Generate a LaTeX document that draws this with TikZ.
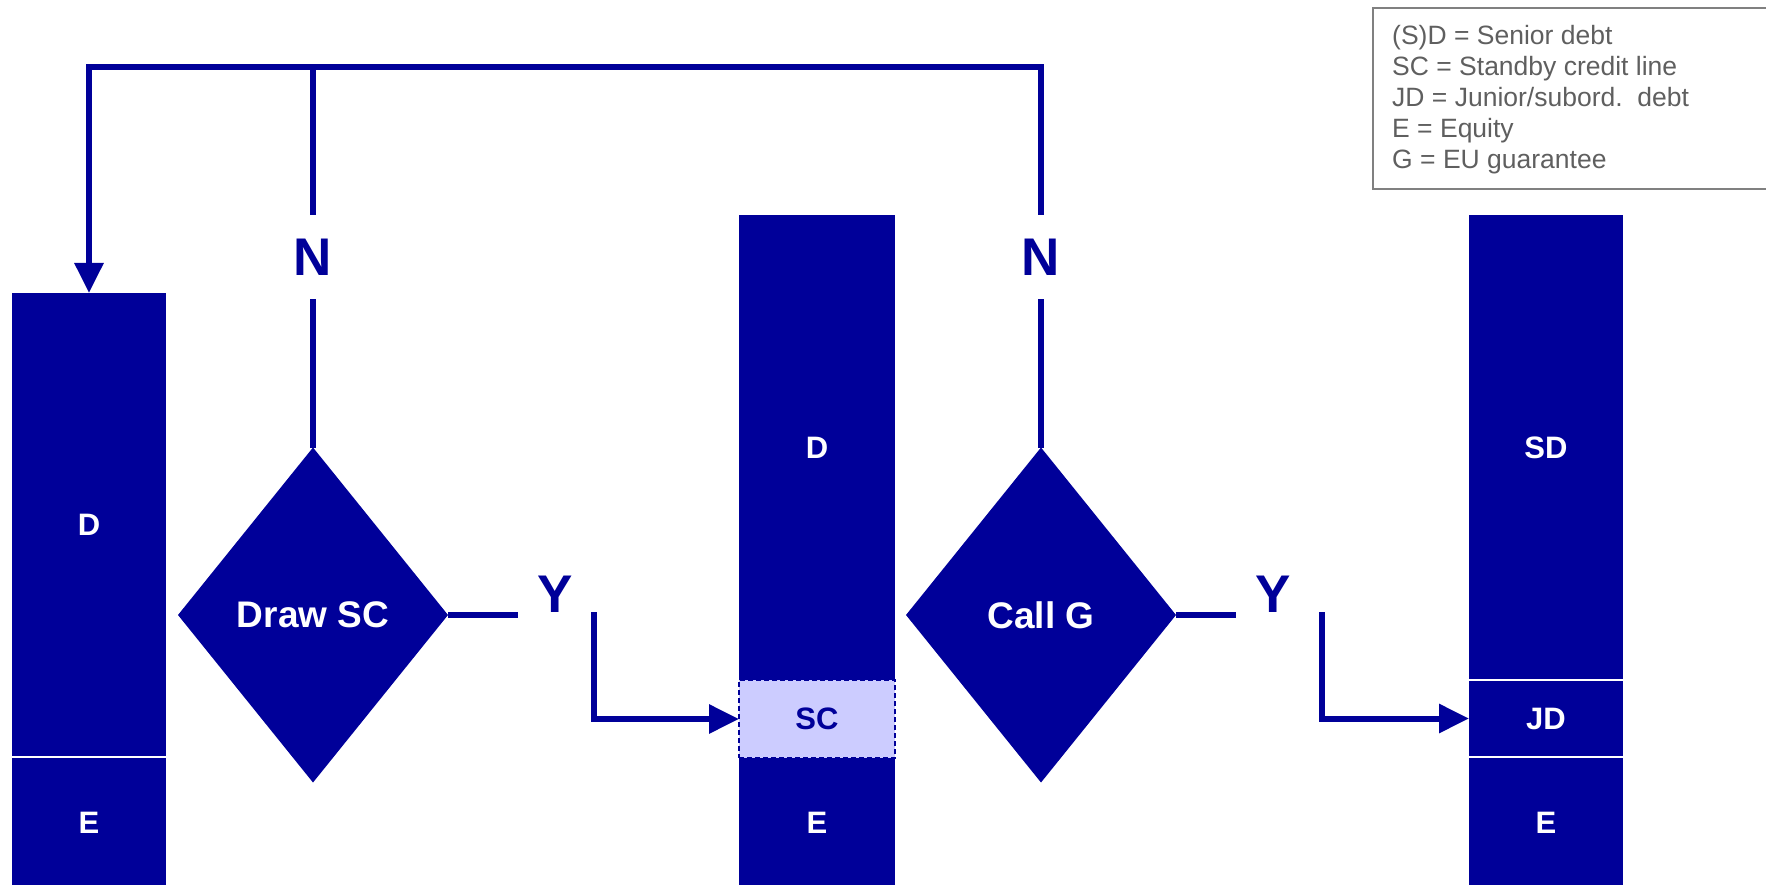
\documentclass[tikz,border=0pt]{standalone}
\usepackage{fontspec}
\setmainfont{Liberation Sans}
\usetikzlibrary{shapes.geometric,arrows.meta}
\definecolor{navy}{RGB}{0,0,153}
\definecolor{lav}{RGB}{204,204,255}
\definecolor{leggray}{RGB}{95,95,95}
\definecolor{legframe}{RGB}{128,128,128}
\begin{document}
\begin{tikzpicture}[x=1pt,y=-1pt,
  blk/.style={rectangle, fill=navy, draw=none, inner sep=0pt, outer sep=0pt, text=white,
    font=\fontsize{31}{31}\selectfont\bfseries},
  scbox/.style={rectangle, fill=lav, draw=navy, dashed, dash pattern=on 5pt off 3pt, line width=1.5pt,
    inner sep=0pt, outer sep=0pt, text=navy, font=\fontsize{31}{31}\selectfont\bfseries},
  dec/.style={diamond, fill=navy, draw=none, inner sep=0pt, outer sep=0pt, aspect=0.806,
    minimum width=270pt, minimum height=335pt, text=white, font=\fontsize{37}{37}\selectfont\bfseries},
  lbl/.style={inner sep=0pt, outer sep=0pt, text=navy, font=\fontsize{53}{53}\selectfont\bfseries},
  conn/.style={draw=navy, line width=6pt, line join=miter},
  arr/.style={conn, -{Triangle[length=30pt,width=28pt]}},
  sep/.style={draw=white, line width=2pt},
  leg/.style={anchor=base west, inner sep=0pt, text=leggray, font=\fontsize{26.5}{31}\selectfont}
]
\useasboundingbox (0,0) rectangle (1766,885);

% left column
\node[blk, minimum width=154pt, minimum height=464pt] (lD) at (89,525) {D};
\node[blk, minimum width=154pt, minimum height=132pt] (lE) at (89,823) {E};
\draw[sep] (lD.south west) -- (lD.south east);

% middle column
\node[blk, minimum width=156pt, minimum height=465pt] (mD) at (817,447.5) {D};
\node[blk, minimum width=156pt, minimum height=130pt] (mE) at (817,823) {E};
\node[scbox, minimum width=156pt, minimum height=78pt] (mSC) at (817,719) {SC};

% right column
\node[blk, minimum width=154pt, minimum height=465pt] (rSD) at (1546,447.5) {SD};
\node[blk, minimum width=154pt, minimum height=77pt] (rJD) at (1546,718.5) {JD};
\node[blk, minimum width=154pt, minimum height=132pt] (rE) at (1546,823) {E};
\draw[sep] (rSD.south west) -- (rSD.south east);
\draw[sep] (rJD.south west) -- (rJD.south east);

% decisions
\node[dec] (d1) at (313,615) {Draw SC};
\node[dec] (d2) at (1041,615) {Call G};

% labels
\node[lbl, minimum height=84pt] (n1) at (313,257) {N};
\node[lbl, minimum height=84pt] (n2) at (1041,257) {N};
\node[lbl, minimum width=74pt] (y1) at (555,594) {Y};
\node[lbl, minimum width=74pt] (y2) at (1273,594) {Y};

% connectors
\coordinate (t0) at (89,67);
\coordinate (t1) at (313,67);
\coordinate (t2) at (1041,67);
\coordinate (y1c) at (594,612);
\coordinate (y2c) at (1322,612);

\draw[conn] (d1.north) -- (n1.south);
\draw[conn] (n1.north) -- (t1);
\draw[conn] (d2.north) -- (n2.south);
\draw[arr] (n2.north) -- (t2) -- (t0) -- (lD.north);

\draw[conn] (d1.east) -- (y1.west |- d1.east);
\draw[arr] (y1c) |- (mSC.west);
\draw[conn] (d2.east) -- (y2.west |- d2.east);
\draw[arr] (y2c) |- (rJD.west);

% legend
\node[draw=legframe, line width=2pt, rectangle, inner sep=0pt, anchor=north west,
  minimum width=430pt, minimum height=181pt] (legbox) at (1372,7) {};
\node[leg] (l1) at (1392,45) {(S)D = Senior debt};
\node[leg] (l2) at (1392,76) {SC = Standby credit line};
\node[leg] (l3) at (1392,107) {JD = Junior/subord.\ \ debt};
\node[leg] (l4) at (1392,138) {E = Equity};
\node[leg] (l5) at (1392,169) {G = EU guarantee};
\end{tikzpicture}
\end{document}
